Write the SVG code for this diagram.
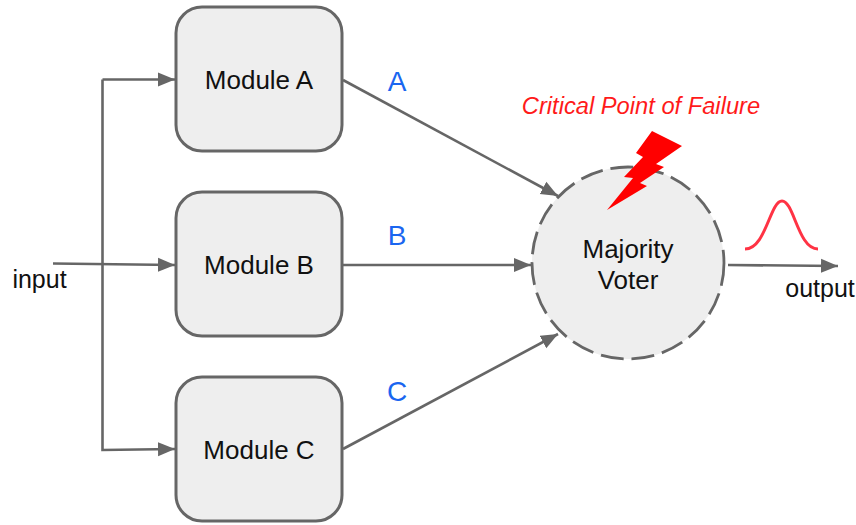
<svg xmlns="http://www.w3.org/2000/svg" width="856" height="525" viewBox="0 0 856 525">
<style>
text{font-family:"Liberation Sans",Arial,sans-serif;fill:#111111;font-size:26px;text-anchor:middle}
.box{fill:#eeeeee;stroke:#666666;stroke-width:3}
.con{fill:none;stroke:#666666;stroke-width:2.6}
.arr{marker-end:url(#ah)}
.lbl{fill:#1a66f0;font-size:28px}
.io{font-size:25px}
</style>
<defs>
<marker id="ah" markerUnits="userSpaceOnUse" markerWidth="18" markerHeight="16" refX="17" refY="8" orient="auto">
<path d="M0 1L17 8L0 15Z" fill="#666666"/>
</marker>
</defs>
<rect width="856" height="525" fill="#ffffff"/>
<g id="connectors">
<path class="con arr" d="M53 263.500L175 265"/>
<path class="con arr" d="M102.500 79.500H175"/>
<path class="con arr" d="M102.500 79.500V450L175 449"/>
<path class="con arr" d="M343 80L558 196"/>
<path class="con arr" d="M343 265H531"/>
<path class="con arr" d="M343 449L558 334"/>
<path class="con arr" d="M728 265L838 266"/>
</g>
<g id="module-a"><rect class="box" x="176" y="7" width="166" height="144" rx="26"/><text x="259" y="89">Module A</text></g>
<g id="module-b"><rect class="box" x="176" y="192" width="166" height="144" rx="26"/><text x="259" y="274">Module B</text></g>
<g id="module-c"><rect class="box" x="176" y="377" width="166" height="144" rx="26"/><text x="259" y="459">Module C</text></g>
<g id="majority-voter"><circle cx="628" cy="263" r="96" fill="#eeeeee" stroke="#666666" stroke-width="2.800" stroke-dasharray="23 8"/><text x="628" y="258">Majority</text><text x="628" y="289">Voter</text></g>
<g id="bolt"><polygon points="652,131 682,146 656,164 664,167 640,183 647,186 607,210 633,178 624,177 643,157 636,153" fill="#ff0000"/></g>
<path id="pulse" d="M745 249C766 249 770 201 782 201C794 201 798 249 818 249" fill="none" stroke="#ff3344" stroke-width="3"/>
<g id="labels">
<text class="io" x="39.500" y="288">input</text>
<text class="io" x="820" y="297">output</text>
<text class="lbl" x="397" y="91">A</text>
<text class="lbl" x="397" y="245">B</text>
<text class="lbl" x="397" y="401">C</text>
<text x="641" y="114" style="fill:#ff1a1a;font-style:italic;font-size:23.700px">Critical Point of Failure</text>
</g>
</svg>
